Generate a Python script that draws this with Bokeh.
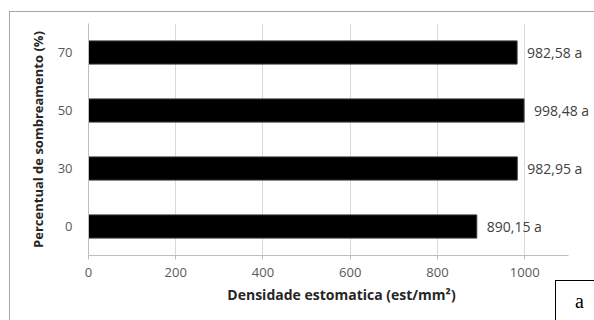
from bokeh.plotting import figure
from bokeh.models import FactorRange, Range1d, FixedTicker, LabelSet, ColumnDataSource, Div
from bokeh.core.properties import value
from bokeh.embed import file_html
from bokeh.resources import INLINE

categories = ["0", "30", "50", "70"]
values = [890.15, 982.95, 998.48, 982.58]
labels = ["890,15 a", "982,95 a", "998,48 a", "982,58 a"]
x_ticks = [0, 200, 400, 600, 800, 1000]

FONT = "Open Sans"

src = ColumnDataSource(dict(cat=categories, val=values, lab=labels))

p = figure(width=594, height=320, output_backend="svg", toolbar_location=None,
           y_range=FactorRange(*categories, range_padding=0), x_range=Range1d(0, 1160),
           min_border_left=88, min_border_right=0, min_border_top=23, min_border_bottom=65)
p.outline_line_color = None
p.background_fill_color = "white"

p.hbar(y="cat", right="val", height=0.4, left=0, source=src, fill_color="black", line_color="#3a3a3a", line_width=1)
p.add_layout(LabelSet(x="val", y="cat", text="lab", source=src, x_offset=10, text_baseline="middle",
                      text_font_size="14px", text_color="#404040", text_font=value(FONT)))

p.xaxis.ticker = FixedTicker(ticks=x_ticks)
p.xaxis.bounds = (0, 1100)
p.xaxis.axis_label = "Densidade estomatica (est/mm²)"
p.yaxis.axis_label = "Percentual de sombreamento (%)"
for ax in (p.xaxis, p.yaxis):
    ax.axis_label_text_font = FONT
    ax.axis_label_text_font_style = "bold"
    ax.axis_label_text_color = "#262626"
    ax.major_label_text_font = FONT
    ax.major_label_text_font_size = "13px"
    ax.major_label_text_color = "#595959"
    ax.axis_line_color = "#bfbfbf"
    ax.major_tick_line_color = "#bfbfbf"
    ax.minor_tick_line_color = None
p.xaxis.axis_label_text_font_size = "14px"
p.yaxis.axis_label_text_font_size = "13px"
p.xaxis.major_tick_out = 4
p.xaxis.major_tick_in = 0
p.xaxis.major_label_standoff = 8
p.xaxis.axis_label_standoff = 5
p.yaxis.major_tick_out = 0
p.yaxis.major_tick_in = 0
p.yaxis.major_label_standoff = 16
p.yaxis.axis_label_standoff = 8

p.ygrid.grid_line_color = None
p.xgrid.grid_line_color = "#d9d9d9"

frame_div = Div(text="", width=585, height=309,
                styles={"position": "absolute", "left": "9px", "top": "11px",
                        "width": "585px", "height": "309px", "box-sizing": "border-box",
                        "border-left": "1px solid #a6a6a6", "border-top": "1px solid #a6a6a6",
                        "pointer-events": "none", "z-index": "10", "background": "transparent"})
a_div = Div(text='<span style="font-family: \'Liberation Serif\', serif; font-size: 20px; color: black;">a</span>',
            width=39, height=40,
            styles={"position": "absolute", "left": "555px", "top": "280px",
                    "width": "39px", "height": "40px", "box-sizing": "border-box",
                    "border-left": "1px solid black", "border-top": "1px solid black",
                    "background": "white", "padding-left": "19px", "padding-top": "10px",
                    "line-height": "20px", "z-index": "11"})
p.elements = [frame_div, a_div]

open("out.html", "w").write(file_html(p, INLINE))
